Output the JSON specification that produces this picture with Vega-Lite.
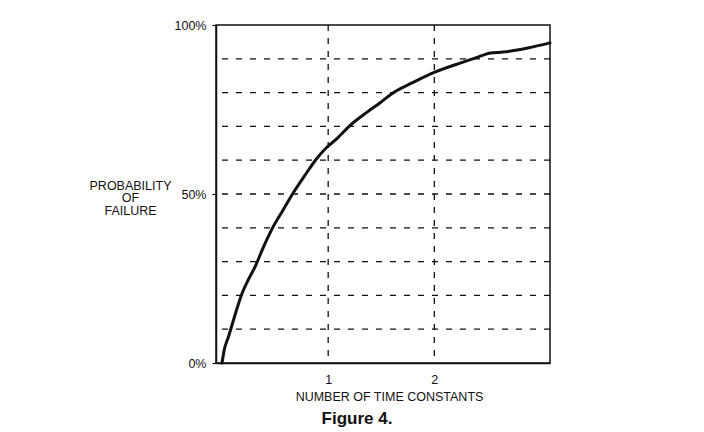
{
  "$schema": "https://vega.github.io/schema/vega-lite/v6.json",
  "width": 334,
  "height": 338,
  "autosize": "none",
  "padding": {"left": 216, "top": 25, "right": 154, "bottom": 69},
  "background": "white",
  "config": {
    "view": {"stroke": "#111", "strokeWidth": 1.5},
    "font": "Liberation Sans",
    "axis": {"labelFont": "Liberation Sans", "titleFont": "Liberation Sans", "labelColor": "#111", "titleColor": "#111", "grid": false}
  },
  "title": {
    "text": "Figure 4.",
    "orient": "bottom",
    "anchor": "middle",
    "dx": -26,
    "offset": 8,
    "fontSize": 17,
    "fontWeight": "bold",
    "color": "#111",
    "font": "Liberation Sans"
  },
  "datasets": {
    "curve": [
      {"t": 0.0, "p": 0.0},
      {"t": 0.02, "p": 3.8},
      {"t": 0.06, "p": 7.7},
      {"t": 0.12, "p": 14.0},
      {"t": 0.19, "p": 20.7},
      {"t": 0.25, "p": 24.8},
      {"t": 0.31, "p": 28.4},
      {"t": 0.39, "p": 34.3},
      {"t": 0.48, "p": 40.2},
      {"t": 0.57, "p": 45.0},
      {"t": 0.67, "p": 50.3},
      {"t": 0.78, "p": 55.5},
      {"t": 0.9, "p": 60.8},
      {"t": 0.99, "p": 63.9},
      {"t": 1.08, "p": 66.3},
      {"t": 1.21, "p": 70.4},
      {"t": 1.37, "p": 74.3},
      {"t": 1.49, "p": 77.0},
      {"t": 1.61, "p": 79.9},
      {"t": 1.8, "p": 83.0},
      {"t": 2.01, "p": 86.1},
      {"t": 2.25, "p": 88.8},
      {"t": 2.41, "p": 90.5},
      {"t": 2.53, "p": 91.7},
      {"t": 2.65, "p": 92.0},
      {"t": 2.78, "p": 92.6},
      {"t": 2.88, "p": 93.2},
      {"t": 3.09, "p": 94.7}
    ],
    "hgrid": [
      {"p": 10}, {"p": 20}, {"p": 30}, {"p": 40}, {"p": 50},
      {"p": 60}, {"p": 70}, {"p": 80}, {"p": 90}
    ],
    "vgrid": [{"t": 1}, {"t": 2}]
  },
  "layer": [
    {
      "data": {"name": "hgrid"},
      "mark": {"type": "rule", "stroke": "#111", "strokeWidth": 1.3, "strokeDash": [6, 8]},
      "encoding": {
        "y": {
          "field": "p",
          "type": "quantitative",
          "scale": {"domain": [0, 100], "nice": false, "zero": false},
          "axis": {
            "values": [0, 50, 100],
            "labelExpr": "datum.label + '%'",
            "labelOverlap": false,
            "labelFontSize": 12.5,
            "labelPadding": 6,
            "tickSize": 4,
            "tickColor": "#111",
            "tickWidth": 1.2,
            "domainColor": "#111",
            "domainWidth": 1.5,
            "title": ["PROBABILITY", "OF", "FAILURE"],
            "titleAngle": 0,
            "titleAlign": "center",
            "titleBaseline": "middle",
            "titleFontSize": 12.5,
            "titleFontWeight": "normal",
            "titleLineHeight": 12.5,
            "titleX": -86,
            "titleY": 160
          }
        }
      }
    },
    {
      "data": {"name": "vgrid"},
      "mark": {"type": "rule", "stroke": "#111", "strokeWidth": 1.3, "strokeDash": [6, 7]},
      "encoding": {
        "x": {
          "field": "t",
          "type": "quantitative",
          "scale": {"domain": [-0.057, 3.09], "nice": false, "zero": false},
          "axis": {
            "values": [1, 2],
            "format": "d",
            "labelFontSize": 12.5,
            "labelPadding": 10,
            "ticks": false,
            "domainColor": "#111",
            "domainWidth": 1.5,
            "title": "NUMBER OF TIME CONSTANTS",
            "titleFontSize": 12.5,
            "titleFontWeight": "normal",
            "titlePadding": 5,
            "titleX": 173
          }
        }
      }
    },
    {
      "data": {"name": "curve"},
      "mark": {"type": "line", "stroke": "#111", "strokeWidth": 3, "interpolate": "monotone", "strokeCap": "round"},
      "encoding": {
        "x": {"field": "t", "type": "quantitative"},
        "y": {"field": "p", "type": "quantitative"}
      }
    }
  ]
}
